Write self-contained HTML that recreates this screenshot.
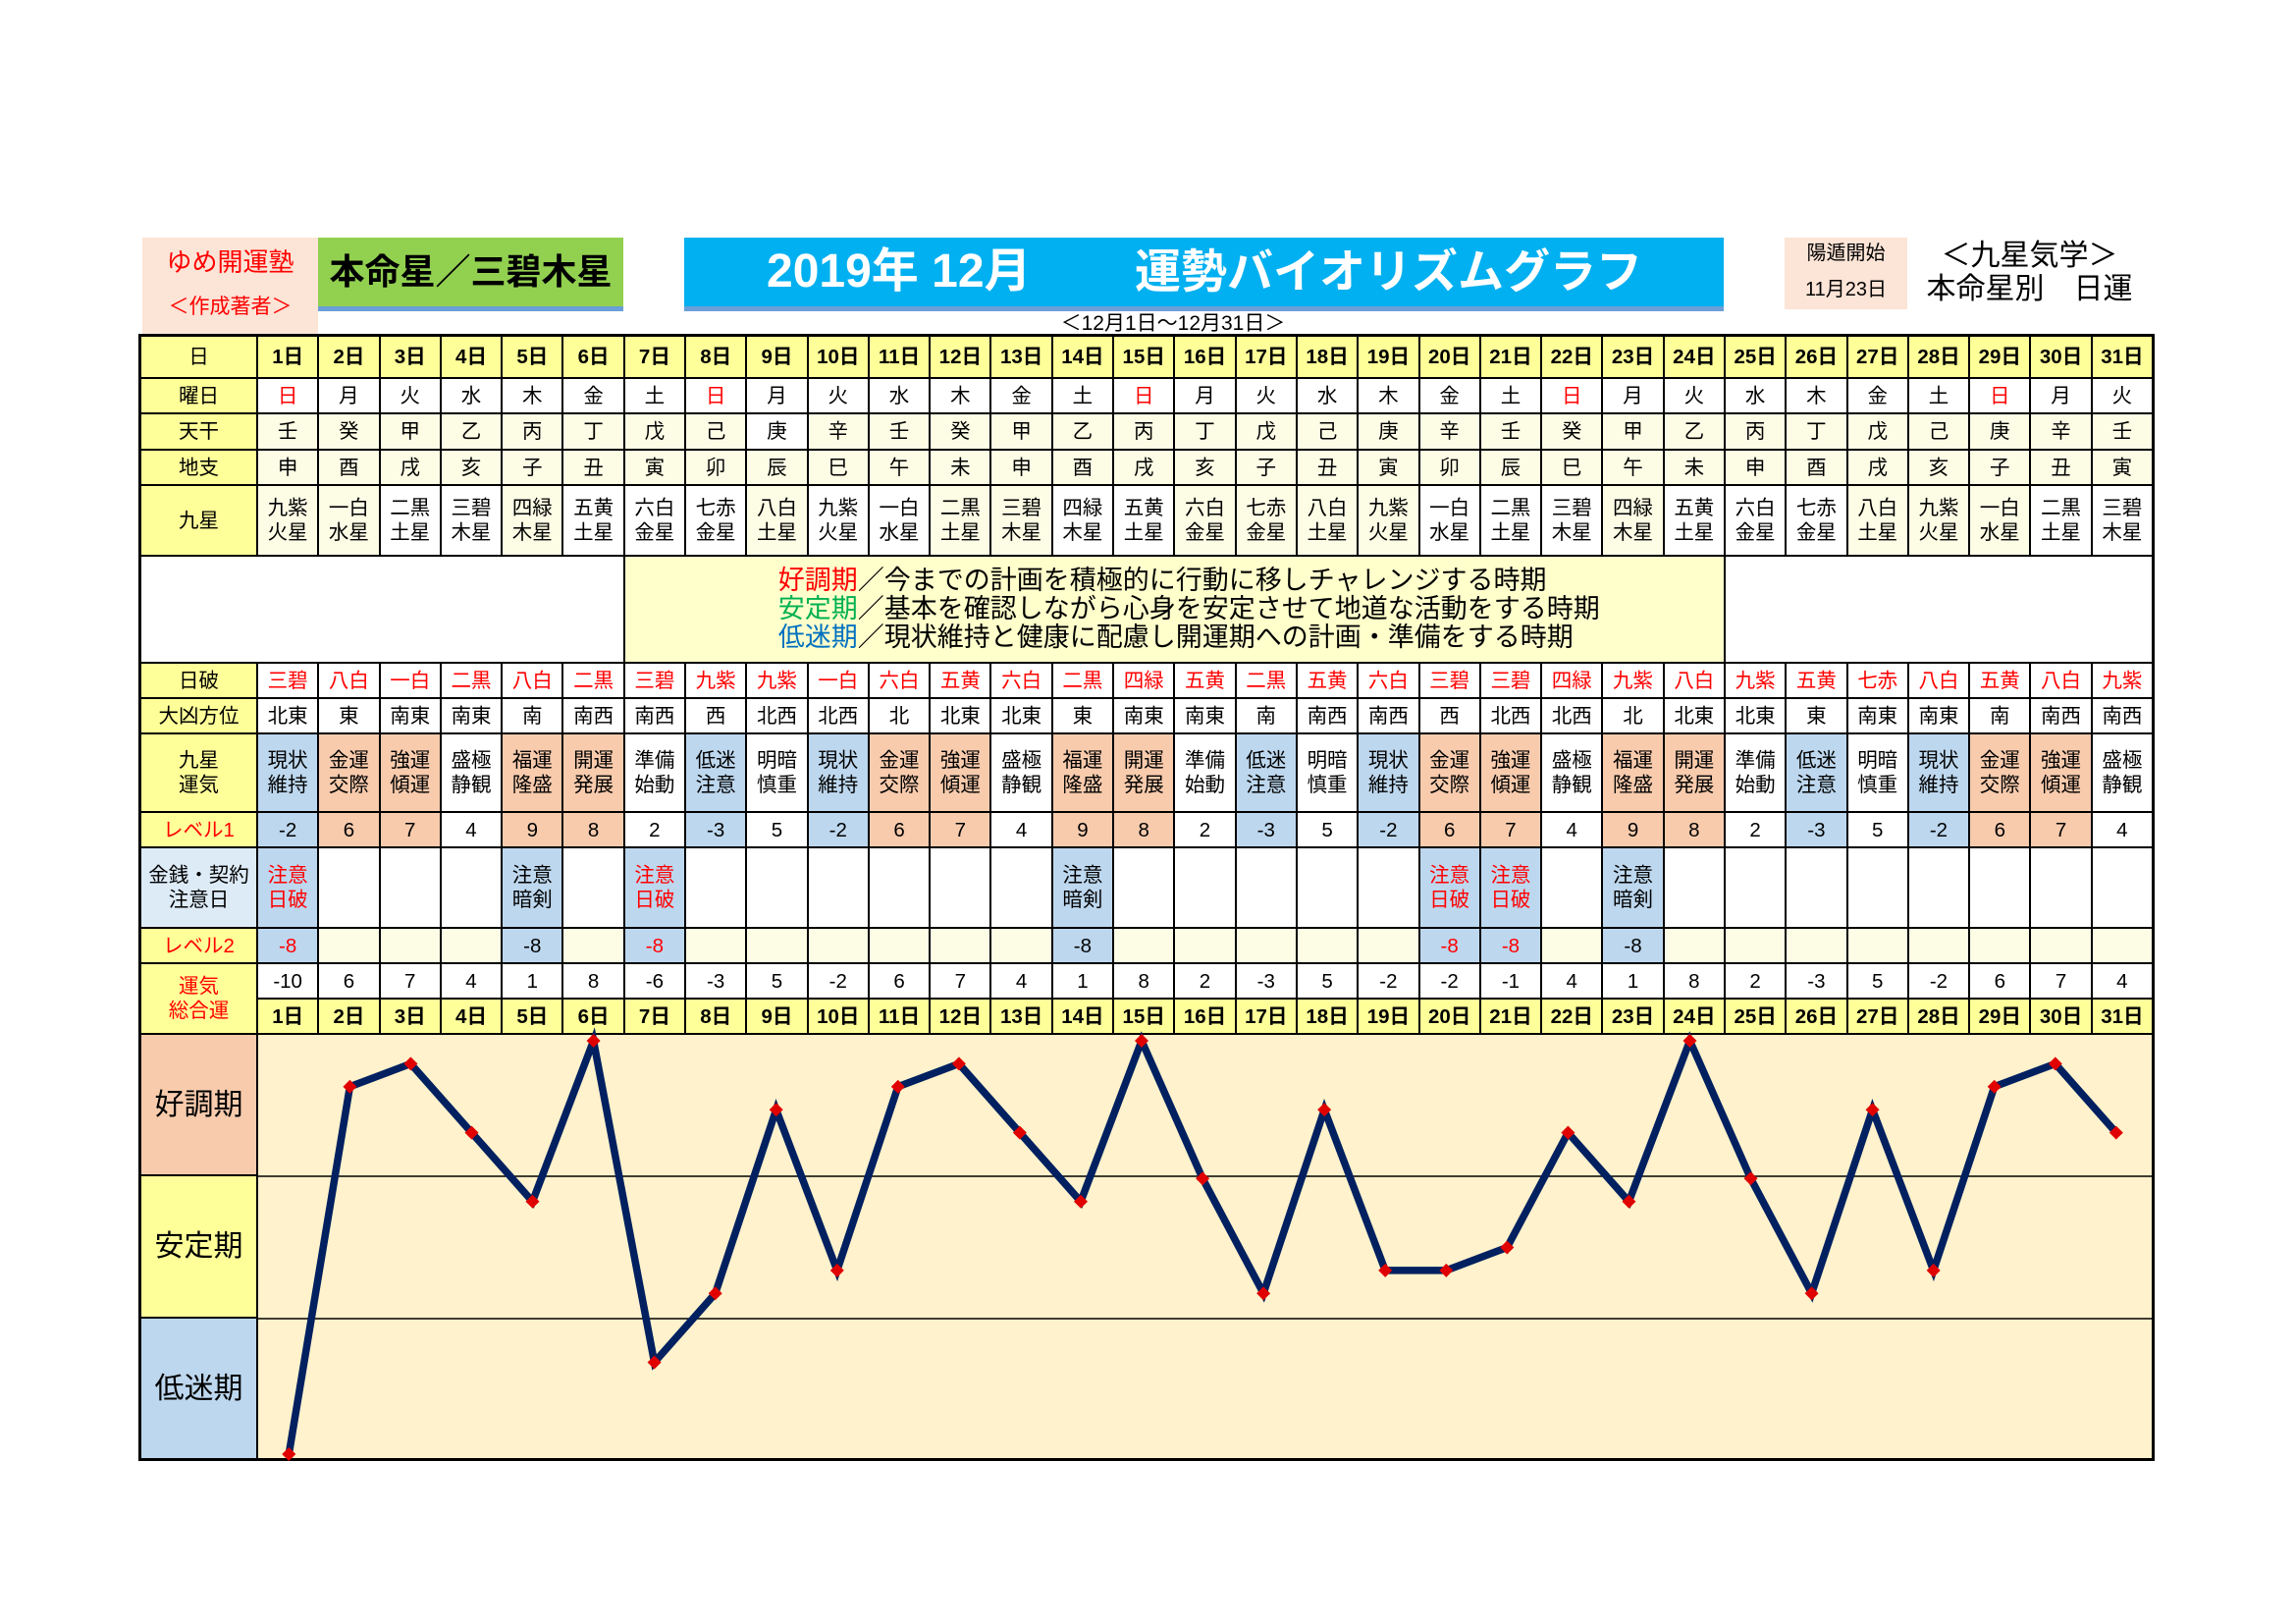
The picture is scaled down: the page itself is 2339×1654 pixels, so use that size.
<!DOCTYPE html>
<html><head><meta charset="utf-8">
<style>
body{margin:0;width:2339px;height:1654px;background:#fff;position:relative;overflow:hidden;font-family:"Liberation Sans","Noto Sans CJK JP",sans-serif;}
.a{position:absolute;white-space:nowrap;text-align:center}
#g{position:absolute;left:141px;top:340px;width:2054px;height:1148px;box-sizing:border-box;padding:3px;background:#000;display:grid;grid-template-columns:117px repeat(31,1fr);grid-template-rows:41px 34px 35px 34px 70px 107px 34px 34px 78px 34px 80px 34px 34px 34px 142px 143px 142px;gap:2px;}
#g>div{background:#fff;display:flex;align-items:center;justify-content:center;text-align:center;font-size:20.5px;line-height:25px;color:#000;overflow:hidden;white-space:nowrap}
#g>.y{background:#ffff99}
#g>.l{background:#fdfde6}
#g>.p{background:#f8cbad}
#g>.b{background:#bdd7ee}
#g>.q{background:#ddebf7}
#g>.cb{background:#fff2cc}
#g>.dy{background:#ffffcc;justify-content:center;align-items:flex-start;flex-direction:column;padding-left:156px;font-size:27px;line-height:29px;text-align:left}
#g>.big{font-size:30px}
#g>.r{color:#f00}
#g>.d{font-weight:bold}
</style></head><body>

<!-- header -->
<div class="a" style="left:145px;top:242px;width:179px;height:100px;background:#fce4d6"></div>
<div class="a" style="left:145px;top:251px;width:179px;height:32px;line-height:32px;font-size:26px;color:#f00">ゆめ開運塾</div>
<div class="a" style="left:145px;top:299px;width:179px;height:28px;line-height:28px;font-size:21px;color:#f00">＜作成著者＞</div>

<div class="a" style="left:324px;top:242px;width:311px;height:70px;background:#92d050"></div>
<div class="a" style="left:324px;top:312px;width:311px;height:5px;background:#6a9fd8"></div>
<div class="a" style="left:324px;top:257px;width:311px;height:40px;line-height:40px;font-size:36px;font-weight:bold;color:#000">本命星／三碧木星</div>

<div class="a" style="left:697px;top:242px;width:1059px;height:70px;background:#00b0f0"></div>
<div class="a" style="left:697px;top:312px;width:1059px;height:5px;background:#6a9fd8"></div>
<div class="a" style="left:781px;top:252px;height:50px;line-height:50px;font-size:48px;font-weight:bold;color:#fff;text-align:left">2019年 12月</div>
<div class="a" style="left:1156px;top:252px;height:50px;line-height:50px;font-size:47px;font-weight:bold;color:#fff;text-align:left">運勢バイオリズムグラフ</div>
<div class="a" style="left:995px;top:319px;width:400px;height:22px;line-height:22px;font-size:21px;color:#000">＜12月1日～12月31日＞</div>

<div class="a" style="left:1818px;top:242px;width:125px;height:73px;background:#fce4d6"></div>
<div class="a" style="left:1818px;top:246px;width:125px;height:24px;line-height:24px;font-size:20px">陽遁開始</div>
<div class="a" style="left:1818px;top:283px;width:125px;height:24px;line-height:24px;font-size:20px">11月23日</div>
<div class="a" style="left:1960px;top:244px;width:215px;height:34px;line-height:34px;font-size:30px">＜九星気学＞</div>
<div class="a" style="left:1960px;top:278px;width:215px;height:34px;line-height:34px;font-size:30px">本命星別　日運</div>

<div id="g">
<!-- row 日 -->
<div class="y">日</div>
<div class="y d">1日</div><div class="y d">2日</div><div class="y d">3日</div><div class="y d">4日</div><div class="y d">5日</div><div class="y d">6日</div><div class="y d">7日</div><div class="y d">8日</div><div class="y d">9日</div><div class="y d">10日</div><div class="y d">11日</div><div class="y d">12日</div><div class="y d">13日</div><div class="y d">14日</div><div class="y d">15日</div><div class="y d">16日</div><div class="y d">17日</div><div class="y d">18日</div><div class="y d">19日</div><div class="y d">20日</div><div class="y d">21日</div><div class="y d">22日</div><div class="y d">23日</div><div class="y d">24日</div><div class="y d">25日</div><div class="y d">26日</div><div class="y d">27日</div><div class="y d">28日</div><div class="y d">29日</div><div class="y d">30日</div><div class="y d">31日</div>
<!-- 曜日 -->
<div class="y">曜日</div>
<div class="r">日</div><div>月</div><div>火</div><div>水</div><div>木</div><div>金</div><div>土</div>
<div class="r">日</div><div>月</div><div>火</div><div>水</div><div>木</div><div>金</div><div>土</div>
<div class="r">日</div><div>月</div><div>火</div><div>水</div><div>木</div><div>金</div><div>土</div>
<div class="r">日</div><div>月</div><div>火</div><div>水</div><div>木</div><div>金</div><div>土</div>
<div class="r">日</div><div>月</div><div>火</div>
<!-- 天干 -->
<div class="y">天干</div>
<div class="l">壬</div><div class="l">癸</div><div class="l">甲</div><div class="l">乙</div><div class="l">丙</div><div class="l">丁</div><div class="l">戊</div><div class="l">己</div><div>庚</div><div class="l">辛</div>
<div class="l">壬</div><div class="l">癸</div><div class="l">甲</div><div class="l">乙</div><div class="l">丙</div><div class="l">丁</div><div class="l">戊</div><div class="l">己</div><div class="l">庚</div><div class="l">辛</div>
<div class="l">壬</div><div class="l">癸</div><div class="l">甲</div><div class="l">乙</div><div class="l">丙</div><div class="l">丁</div><div class="l">戊</div><div class="l">己</div><div class="l">庚</div><div class="l">辛</div>
<div class="l">壬</div>
<!-- 地支 -->
<div class="y">地支</div>
<div class="l">申</div><div class="l">酉</div><div class="l">戌</div><div class="l">亥</div><div class="l">子</div><div class="l">丑</div><div class="l">寅</div><div class="l">卯</div><div class="l">辰</div><div class="l">巳</div><div class="l">午</div><div class="l">未</div>
<div class="l">申</div><div class="l">酉</div><div class="l">戌</div><div class="l">亥</div><div class="l">子</div><div class="l">丑</div><div class="l">寅</div><div class="l">卯</div><div class="l">辰</div><div class="l">巳</div><div class="l">午</div><div class="l">未</div>
<div class="l">申</div><div class="l">酉</div><div class="l">戌</div><div class="l">亥</div><div class="l">子</div><div class="l">丑</div><div class="l">寅</div>
<!-- 九星 -->
<div class="y">九星</div>
<div class="l">九紫<br>火星</div><div class="l">一白<br>水星</div><div>二黒<br>土星</div><div>三碧<br>木星</div><div class="l">四緑<br>木星</div><div>五黄<br>土星</div><div>六白<br>金星</div><div>七赤<br>金星</div><div class="l">八白<br>土星</div>
<div>九紫<br>火星</div><div>一白<br>水星</div><div class="l">二黒<br>土星</div><div class="l">三碧<br>木星</div><div>四緑<br>木星</div><div>五黄<br>土星</div><div class="l">六白<br>金星</div><div class="l">七赤<br>金星</div><div class="l">八白<br>土星</div>
<div class="l">九紫<br>火星</div><div>一白<br>水星</div><div>二黒<br>土星</div><div>三碧<br>木星</div><div class="l">四緑<br>木星</div><div>五黄<br>土星</div><div>六白<br>金星</div><div>七赤<br>金星</div><div class="l">八白<br>土星</div>
<div class="l">九紫<br>火星</div><div class="l">一白<br>水星</div><div>二黒<br>土星</div><div>三碧<br>木星</div>
<!-- description -->
<div style="grid-column:span 7"></div>
<div class="dy" style="grid-column:span 18"><div><span style="color:#f00">好調期</span>／今までの計画を積極的に行動に移しチャレンジする時期</div><div><span style="color:#00b050">安定期</span>／基本を確認しながら心身を安定させて地道な活動をする時期</div><div><span style="color:#0070c0">低迷期</span>／現状維持と健康に配慮し開運期への計画・準備をする時期</div></div>
<div style="grid-column:span 7"></div>
<!-- 日破 -->
<div class="y">日破</div>
<div class="r">三碧</div><div class="r">八白</div><div class="r">一白</div><div class="r">二黒</div><div class="r">八白</div><div class="r">二黒</div><div class="r">三碧</div><div class="r">九紫</div><div class="r">九紫</div><div class="r">一白</div>
<div class="r">六白</div><div class="r">五黄</div><div class="r">六白</div><div class="r">二黒</div><div class="r">四緑</div><div class="r">五黄</div><div class="r">二黒</div><div class="r">五黄</div><div class="r">六白</div><div class="r">三碧</div>
<div class="r">三碧</div><div class="r">四緑</div><div class="r">九紫</div><div class="r">八白</div><div class="r">九紫</div><div class="r">五黄</div><div class="r">七赤</div><div class="r">八白</div><div class="r">五黄</div><div class="r">八白</div>
<div class="r">九紫</div>
<!-- 大凶方位 -->
<div class="y">大凶方位</div>
<div>北東</div><div>東</div><div>南東</div><div>南東</div><div>南</div><div>南西</div><div>南西</div><div>西</div><div>北西</div><div>北西</div>
<div>北</div><div>北東</div><div>北東</div><div>東</div><div>南東</div><div>南東</div><div>南</div><div>南西</div><div>南西</div><div>西</div>
<div>北西</div><div>北西</div><div>北</div><div>北東</div><div>北東</div><div>東</div><div>南東</div><div>南東</div><div>南</div><div>南西</div>
<div>南西</div>
<!-- 九星運気 -->
<div class="y">九星<br>運気</div>
<div class="b">現状<br>維持</div><div class="p">金運<br>交際</div><div class="p">強運<br>傾運</div><div>盛極<br>静観</div><div class="p">福運<br>隆盛</div><div class="p">開運<br>発展</div><div>準備<br>始動</div><div class="b">低迷<br>注意</div><div>明暗<br>慎重</div>
<div class="b">現状<br>維持</div><div class="p">金運<br>交際</div><div class="p">強運<br>傾運</div><div>盛極<br>静観</div><div class="p">福運<br>隆盛</div><div class="p">開運<br>発展</div><div>準備<br>始動</div><div class="b">低迷<br>注意</div><div>明暗<br>慎重</div>
<div class="b">現状<br>維持</div><div class="p">金運<br>交際</div><div class="p">強運<br>傾運</div><div>盛極<br>静観</div><div class="p">福運<br>隆盛</div><div class="p">開運<br>発展</div><div>準備<br>始動</div><div class="b">低迷<br>注意</div><div>明暗<br>慎重</div>
<div class="b">現状<br>維持</div><div class="p">金運<br>交際</div><div class="p">強運<br>傾運</div><div>盛極<br>静観</div>
<!-- レベル1 -->
<div class="y r">レベル1</div>
<div class="b">-2</div><div class="p">6</div><div class="p">7</div><div>4</div><div class="p">9</div><div class="p">8</div><div>2</div><div class="b">-3</div><div>5</div>
<div class="b">-2</div><div class="p">6</div><div class="p">7</div><div>4</div><div class="p">9</div><div class="p">8</div><div>2</div><div class="b">-3</div><div>5</div>
<div class="b">-2</div><div class="p">6</div><div class="p">7</div><div>4</div><div class="p">9</div><div class="p">8</div><div>2</div><div class="b">-3</div><div>5</div>
<div class="b">-2</div><div class="p">6</div><div class="p">7</div><div>4</div>
<!-- 金銭 -->
<div class="q">金銭・契約<br>注意日</div>
<div class="b r">注意<br>日破</div><div></div><div></div><div></div><div class="b">注意<br>暗剣</div><div></div><div class="b r">注意<br>日破</div><div></div><div></div><div></div>
<div></div><div></div><div></div><div class="b">注意<br>暗剣</div><div></div><div></div><div></div><div></div><div></div><div class="b r">注意<br>日破</div>
<div class="b r">注意<br>日破</div><div></div><div class="b">注意<br>暗剣</div><div></div><div></div><div></div><div></div><div></div><div></div><div></div>
<div></div>
<!-- レベル2 -->
<div class="y r">レベル2</div>
<div class="b r">-8</div><div class="l"></div><div class="l"></div><div class="l"></div><div class="b">-8</div><div class="l"></div><div class="b r">-8</div><div class="l"></div><div class="l"></div><div class="l"></div>
<div class="l"></div><div class="l"></div><div class="l"></div><div class="b">-8</div><div class="l"></div><div class="l"></div><div class="l"></div><div class="l"></div><div class="l"></div><div class="b r">-8</div>
<div class="b r">-8</div><div class="l"></div><div class="b">-8</div><div class="l"></div><div class="l"></div><div class="l"></div><div class="l"></div><div class="l"></div><div class="l"></div><div class="l"></div>
<div class="l"></div>
<!-- 総合運 -->
<div class="y r" style="grid-row:span 2">運気<br>総合運</div>
<div>-10</div><div>6</div><div>7</div><div>4</div><div>1</div><div>8</div><div>-6</div><div>-3</div><div>5</div><div>-2</div>
<div>6</div><div>7</div><div>4</div><div>1</div><div>8</div><div>2</div><div>-3</div><div>5</div><div>-2</div><div>-2</div>
<div>-1</div><div>4</div><div>1</div><div>8</div><div>2</div><div>-3</div><div>5</div><div>-2</div><div>6</div><div>7</div>
<div>4</div>
<div class="y d">1日</div><div class="y d">2日</div><div class="y d">3日</div><div class="y d">4日</div><div class="y d">5日</div><div class="y d">6日</div><div class="y d">7日</div><div class="y d">8日</div><div class="y d">9日</div><div class="y d">10日</div><div class="y d">11日</div><div class="y d">12日</div><div class="y d">13日</div><div class="y d">14日</div><div class="y d">15日</div><div class="y d">16日</div><div class="y d">17日</div><div class="y d">18日</div><div class="y d">19日</div><div class="y d">20日</div><div class="y d">21日</div><div class="y d">22日</div><div class="y d">23日</div><div class="y d">24日</div><div class="y d">25日</div><div class="y d">26日</div><div class="y d">27日</div><div class="y d">28日</div><div class="y d">29日</div><div class="y d">30日</div><div class="y d">31日</div>
<!-- chart -->
<div class="p big">好調期</div>
<div class="cb" style="grid-column:span 31;grid-row:span 3"></div>
<div class="y big">安定期</div>
<div class="b big">低迷期</div>
</div>

<svg class="a" style="left:0;top:0" width="2339" height="1654" viewBox="0 0 2339 1654">
<defs>
<marker id="m" markerWidth="14" markerHeight="14" refX="7" refY="7" markerUnits="userSpaceOnUse"><path d="M7 0L14 7L7 14L0 7Z" fill="#e00000"/></marker>
</defs>
<line x1="263" y1="1198" x2="2192" y2="1198" stroke="#000" stroke-width="1.6"/>
<line x1="263" y1="1343" x2="2192" y2="1343" stroke="#000" stroke-width="1.6"/>
<polyline fill="none" stroke="#002060" stroke-width="7.5" stroke-linejoin="miter" marker-start="url(#m)" marker-mid="url(#m)" marker-end="url(#m)" points="294.3,1481 356.4,1106.8 418.4,1083.4 480.5,1153.6 542.5,1223.7 604.6,1060 666.6,1387.5 728.7,1317.3 790.7,1130.2 852.8,1293.9 914.8,1106.8 976.9,1083.4 1038.9,1153.6 1101,1223.7 1163,1060 1225.1,1200.3 1287.1,1317.3 1349.2,1130.2 1411.2,1293.9 1473.3,1293.9 1535.3,1270.5 1597.4,1153.6 1659.4,1223.7 1721.5,1060 1783.5,1200.3 1845.6,1317.3 1907.6,1130.2 1969.7,1293.9 2031.7,1106.8 2093.8,1083.4 2155.8,1153.6"/>
</svg>
</body></html>
